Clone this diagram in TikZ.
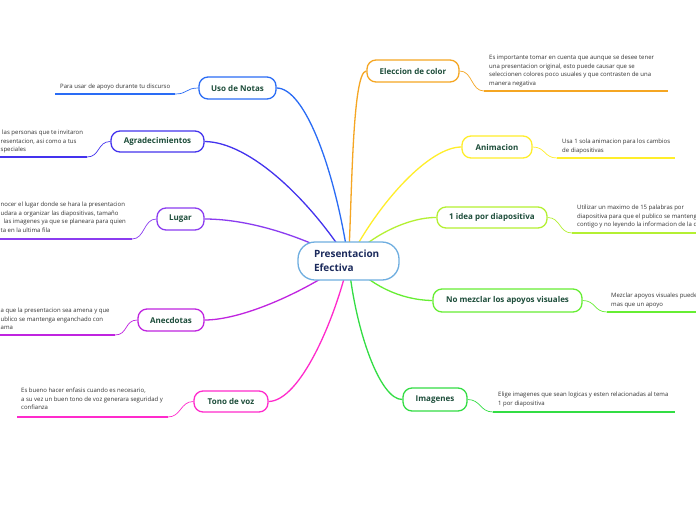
\documentclass[tikz,border=0pt]{standalone}
\usepackage{fontspec}
\setmainfont{Open Sans}
\definecolor{cUso}{HTML}{2A6CF5}
\definecolor{cAgr}{HTML}{4433EE}
\definecolor{cLug}{HTML}{8B3CF0}
\definecolor{cAne}{HTML}{C024E0}
\definecolor{cTon}{HTML}{FF2ACC}
\definecolor{cEle}{HTML}{F5A623}
\definecolor{cAni}{HTML}{FFEE2A}
\definecolor{cIde}{HTML}{B4F032}
\definecolor{cNom}{HTML}{66EE33}
\definecolor{cIma}{HTML}{33DD44}
\definecolor{cCen}{HTML}{6FAEE0}
\definecolor{cCenText}{HTML}{1B2A5C}
\definecolor{cNodeText}{HTML}{1D4D3A}
\definecolor{cLeafText}{HTML}{333333}
\pgfdeclarelayer{bg}
\pgfdeclarelayer{edges}
\pgfsetlayers{bg,edges,main}
\tikzset{
  branch/.style={draw=#1, rounded corners=9pt, line width=1.3pt, fill=white,
    font=\fontsize{8}{10}\selectfont\bfseries, text=cNodeText, inner sep=0pt},
  leaf/.style={font=\fontsize{6}{8.6}\selectfont, align=left, inner sep=0pt,
    anchor=north west, text=cLeafText},
  mainedge/.style={draw=#1, line width=1.3pt},
  leafedge/.style={draw=#1, line width=0.7pt},
  underline/.style={draw=#1, line width=1.8pt}
}
\begin{document}
\begin{tikzpicture}[x=1pt,y=-1pt]
\clip (0,0) rectangle (696,520);
\begin{pgfonlayer}{bg}
\fill[white] (0,0) rectangle (696,520);
\end{pgfonlayer}

% center
\node[draw=cCen, line width=1.3pt, fill=white, rounded corners=17pt,
  align=left, text width=69pt, inner xsep=16pt, inner ysep=0pt,
  minimum height=38pt, font=\fontsize{10}{14}\selectfont\bfseries,
  text=cCenText] (c) at (348.5,261) {Presentacion\\Efectiva};

% branches
\node[branch=cUso, minimum width=77pt, minimum height=22pt] (uso) at (237.5,88) {Uso de Notas};
\node[branch=cAgr, minimum width=93pt, minimum height=21pt] (agr) at (157.5,141.5) {Agradecimientos};
\node[branch=cLug, minimum width=47pt, minimum height=22pt] (lug) at (180.5,219) {Lugar};
\node[branch=cAne, minimum width=66pt, minimum height=22pt] (ane) at (171,320) {Anecdotas};
\node[branch=cTon, minimum width=74pt, minimum height=21pt] (ton) at (231,401.5) {Tono de voz};
\node[branch=cEle, minimum width=92pt, minimum height=22pt] (ele) at (413,71) {Eleccion de color};
\node[branch=cAni, minimum width=70pt, minimum height=22pt] (ani) at (497,147) {Animacion};
\node[branch=cIde, minimum width=110pt, minimum height=21pt] (ide) at (492,217.5) {1 idea por diapositiva};
\node[branch=cNom, minimum width=149pt, minimum height=23pt] (nom) at (507.5,300.5) {No mezclar los apoyos visuales};
\node[branch=cIma, minimum width=64pt, minimum height=23pt] (ima) at (435,399.5) {Imagenes};

% leaves
\node[leaf] (tuso) at (60,84) {Para usar de apoyo durante tu discurso};
\node[leaf] (tagr) at (0.5,130) {\hspace{1.5pt}las personas que te invitaron\\resentacion, asi como a tus\\speciales};
\node[leaf] (tlug) at (0.5,202) {nocer el lugar donde se hara la presentacion\\udara a organizar las diapositivas, tama\~no\\\hspace{3pt}las imagenes ya que se planeara para quien\\ta en la ultima fila};
\node[leaf] (tane) at (0.5,308) {a que la presentacion sea amena y que\\ublico se mantenga enganchado con\\ama};
\node[leaf] (tton) at (21,388) {Es bueno hacer enfasis cuando es necesario,\\a su vez un buen tono de voz generara seguridad y\\confianza};
\node[leaf] (tele) at (489,55) {Es importante tomar en cuenta que aunque se desee tener\\una presentacion original, esto puede causar que se\\seleccionen colores poco usuales y que contrasten de una\\manera negativa};
\node[leaf] (tani) at (562,139) {Usa 1 sola animacion para los cambios\\de diapositivas};
\node[leaf] (tide) at (577,205) {Utilizar un maximo de 15 palabras por\\diapositiva para que el publico se mantenga\\contigo y no leyendo la informacion de la diapositiva};
\node[leaf] (tnom) at (611,293) {Mezclar apoyos visuales pueden\\mas que un apoyo};
\node[leaf] (tima) at (498,392) {Elige imagenes que sean logicas y esten relacionadas al tema\\1 por diapositiva};

% underline end points
\coordinate (usoA) at (175,94);   \coordinate (usoB) at (55,94);
\coordinate (agrA) at (87,157);   \coordinate (agrB) at (-2,157);
\coordinate (lugA) at (132,239);  \coordinate (lugB) at (-2,239);
\coordinate (aneA) at (115,335);  \coordinate (aneB) at (-2,335);
\coordinate (tonA) at (168,417);  \coordinate (tonB) at (17,417);
\coordinate (eleA) at (484,91);   \coordinate (eleB) at (668,91);
\coordinate (aniA) at (557,158);  \coordinate (aniB) at (675,158);
\coordinate (ideA) at (572,233);  \coordinate (ideB) at (700,233);
\coordinate (nomA) at (607,312);  \coordinate (nomB) at (700,312);
\coordinate (imaA) at (493,412);  \coordinate (imaB) at (675,412);

\begin{pgfonlayer}{edges}
% main connectors
\draw[mainedge=cUso] (uso.east) .. controls (305,88) and (335,170) .. (c.center);
\draw[mainedge=cAgr] (agr.east) .. controls (250,142) and (310,200) .. (c.center);
\draw[mainedge=cLug] (lug.east) .. controls (240,219) and (290,230) .. (c.center);
\draw[mainedge=cAne] (ane.east) .. controls (240,320) and (300,295) .. (c.center);
\draw[mainedge=cTon] (ton.east) .. controls (300,401) and (335,320) .. (c.center);
\draw[mainedge=cEle] (ele.west) .. controls (352,71) and (352,200) .. (c.center);
\draw[mainedge=cAni] (ani.west) .. controls (430,147) and (380,200) .. (c.center);
\draw[mainedge=cIde] (ide.west) .. controls (410,217) and (370,235) .. (c.center);
\draw[mainedge=cNom] (nom.west) .. controls (400,300) and (370,285) .. (c.center);
\draw[mainedge=cIma] (ima.west) .. controls (380,400) and (355,330) .. (c.center);
% leaf connectors
\draw[leafedge=cUso] (uso.west) .. controls +(-13,0) and +(13,0) .. (usoA);
\draw[leafedge=cAgr] (agr.west) .. controls +(-13,0) and +(13,0) .. (agrA);
\draw[leafedge=cLug] (lug.west) .. controls +(-13,0) and +(13,0) .. (lugA);
\draw[leafedge=cAne] (ane.west) .. controls +(-13,0) and +(13,0) .. (aneA);
\draw[leafedge=cTon] (ton.west) .. controls +(-13,0) and +(13,0) .. (tonA);
\draw[leafedge=cEle] (ele.east) .. controls +(13,0) and +(-13,0) .. (eleA);
\draw[leafedge=cAni] (ani.east) .. controls +(13,0) and +(-13,0) .. (aniA);
\draw[leafedge=cIde] (ide.east) .. controls +(13,0) and +(-13,0) .. (ideA);
\draw[leafedge=cNom] (nom.east) .. controls +(13,0) and +(-13,0) .. (nomA);
\draw[leafedge=cIma] (ima.east) .. controls +(13,0) and +(-13,0) .. (imaA);
% underlines
\draw[underline=cUso] (usoA) -- (usoB);
\draw[underline=cAgr] (agrA) -- (agrB);
\draw[underline=cLug] (lugA) -- (lugB);
\draw[underline=cAne] (aneA) -- (aneB);
\draw[underline=cTon] (tonA) -- (tonB);
\draw[underline=cEle] (eleA) -- (eleB);
\draw[underline=cAni] (aniA) -- (aniB);
\draw[underline=cIde] (ideA) -- (ideB);
\draw[underline=cNom] (nomA) -- (nomB);
\draw[underline=cIma] (imaA) -- (imaB);
\end{pgfonlayer}
\end{tikzpicture}
\end{document}
